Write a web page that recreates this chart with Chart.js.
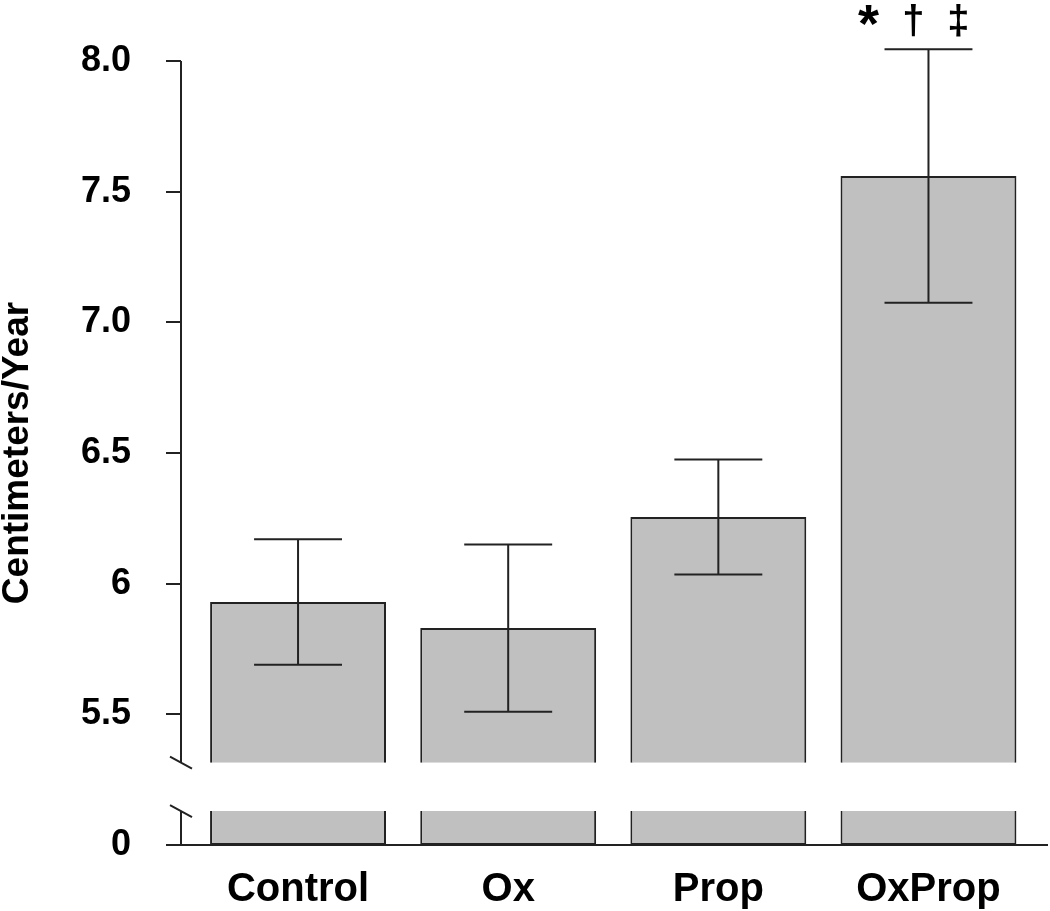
<!DOCTYPE html>
<html>
<head>
<meta charset="utf-8">
<script src="https://cdn.jsdelivr.net/npm/chart.js@4.4.1/dist/chart.umd.min.js"></script>
<style>
  html, body { margin: 0; padding: 0; background: #fff; }
  #wrap { width: 1050px; height: 911px; }
</style>
</head>
<body>
<div id="wrap"><canvas id="chart" width="1050" height="911"></canvas></div>
<script>
const categories = ['Control', 'Ox', 'Prop', 'OxProp'];
const means = [5.93, 5.83, 6.255, 7.56];
const stdErrors = [0.24, 0.32, 0.22, 0.485];
const significance = ['', '', '', ['*', '\u2020', '\u2021']];

// broken axis: 5.0 on the scale stands in for the real 0
const tickValues = [5.0, 5.5, 6.0, 6.5, 7.0, 7.5, 8.0];
const tickLabels = ['0', '5.5', '6', '6.5', '7.0', '7.5', '8.0'];
const axisZero = 5.0;
const breakLow = 5.315;  // bottom of the upper segment
const breakHigh = 5.13;  // top of the stub above zero

const FONT = '"Liberation Sans", Arial, sans-serif';
const LINE = '#222';

const brokenAxis = {
    id: 'brokenAxis',
    afterDatasetsDraw(chart) {
        const ctx = chart.ctx;
        const y = chart.scales.y;
        const x0 = chart.chartArea.left;
        const top = y.getPixelForValue(tickValues[tickValues.length - 1]);
        const low = y.getPixelForValue(breakLow);
        const high = y.getPixelForValue(breakHigh);
        const zero = y.getPixelForValue(axisZero);

        ctx.save();
        ctx.strokeStyle = LINE;
        ctx.lineWidth = 2;
        ctx.beginPath();
        ctx.moveTo(x0, top); ctx.lineTo(x0, low);
        ctx.moveTo(x0, high); ctx.lineTo(x0, zero);
        // break slashes
        ctx.moveTo(x0 - 11, low - 6); ctx.lineTo(x0 + 11, low + 6);
        ctx.moveTo(x0 - 11, high - 6); ctx.lineTo(x0 + 11, high + 6);
        ctx.stroke();

        // error bars
        const meta = chart.getDatasetMeta(0);
        meta.data.forEach((bar, i) => {
            const yHi = y.getPixelForValue(means[i] + stdErrors[i]);
            const yLo = y.getPixelForValue(means[i] - stdErrors[i]);
            const half = bar.width * 0.25;
            ctx.beginPath();
            ctx.moveTo(bar.x, yHi); ctx.lineTo(bar.x, yLo);
            ctx.moveTo(bar.x - half, yHi); ctx.lineTo(bar.x + half, yHi);
            ctx.moveTo(bar.x - half, yLo); ctx.lineTo(bar.x + half, yLo);
            ctx.stroke();

            const marks = significance[i];
            if (marks && marks.length) {
                ctx.fillStyle = '#000';
                ctx.textAlign = 'center';
                ctx.textBaseline = 'alphabetic';
                const gap = 45;
                const start = bar.x - 15 - gap * (marks.length - 1) / 2;
                marks.forEach((m, k) => {
                    // the asterisk renders small in Liberation, so bump it up
                    ctx.font = 'bold ' + (m === '*' ? 54 : 40) + 'px ' + FONT;
                    ctx.fillText(m, start + gap * k, yHi - 15 + (m === '*' ? 8 : 0));
                });
            }
        });
        ctx.restore();
    }
};

new Chart(document.getElementById('chart').getContext('2d'), {
    type: 'bar',
    data: {
        datasets: [{
            data: categories.map((c, i) => ({ x: i, y: [breakLow, means[i]] })),
            backgroundColor: '#c0c0c0',
            borderColor: LINE,
            borderWidth: 2,
            borderSkipped: 'bottom',
            grouped: false,
            categoryPercentage: 1,
            barPercentage: 0.837
        }, {
            data: categories.map((c, i) => ({ x: i, y: [axisZero, breakHigh] })),
            backgroundColor: '#c0c0c0',
            borderColor: LINE,
            borderWidth: 2,
            borderSkipped: 'top',
            grouped: false,
            categoryPercentage: 1,
            barPercentage: 0.837
        }]
    },
    options: {
        responsive: false,
        animation: false,
        layout: { padding: { top: 61, right: 3, left: 0, bottom: 0 } },
        plugins: {
            legend: { display: false },
            tooltip: { enabled: false }
        },
        scales: {
            x: {
                type: 'linear',
                min: -0.557,
                max: 3.564,
                offset: false,
                grid: { display: false, offset: false },
                border: { display: true, color: LINE, width: 2 },
                afterBuildTicks: s => { s.ticks = categories.map((c, i) => ({ value: i })); },
                afterFit: s => { s.height = 66; },
                ticks: {
                    callback: v => categories[v],
                    font: { family: FONT, size: 40, weight: 'bold' },
                    color: '#000',
                    padding: 13,
                    maxRotation: 0,
                    autoSkip: false
                }
            },
            y: {
                min: 5.0,
                max: 8.0,
                afterBuildTicks: s => { s.ticks = tickValues.map(v => ({ value: v })); },
                afterFit: s => { s.width = 181; },
                ticks: {
                    callback: (v, idx) => tickLabels[idx],
                    font: { family: FONT, size: 36, weight: 'bold' },
                    color: '#000',
                    padding: 35,
                    autoSkip: false
                },
                grid: {
                    drawOnChartArea: false,
                    drawTicks: true,
                    tickLength: 15,
                    color: LINE,
                    lineWidth: 2
                },
                border: { display: false },
                title: {
                    display: true,
                    text: 'Centimeters/Year',
                    font: { family: FONT, size: 37, weight: 'bold' },
                    color: '#000',
                    padding: { top: -4, bottom: 0 }
                }
            }
        }
    },
    plugins: [brokenAxis]
});
</script>
</body>
</html>
